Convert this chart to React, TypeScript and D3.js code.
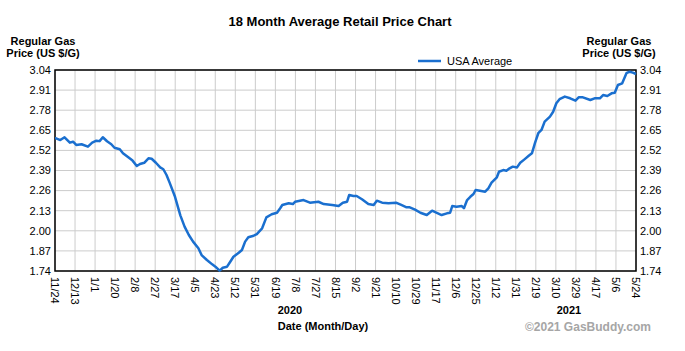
import React, { useEffect, useRef } from "react";
import * as d3 from "d3";

// days counted from 11/24/2019, price in US $/gallon
const dayOffsets = [
  0, 1, 5, 9, 14, 17, 20, 25, 31, 35, 39, 42, 45, 49, 53, 56, 61, 64, 69, 73,
  77, 80, 84, 88, 91, 95, 99, 102, 105, 108, 113, 118, 122, 126, 130, 135, 138, 143, 148, 151,
  155, 158, 162, 165, 168, 173, 176, 179, 182, 187, 190, 195, 199, 204, 209, 212, 214, 220, 224, 226,
  234, 240, 248, 253, 261, 267, 271, 275, 277, 281, 284, 289, 295, 300, 303, 308, 314, 321, 326, 331,
  334, 339, 344, 350, 355, 359, 364, 369, 372, 374, 378, 383, 385, 388, 391, 394, 396, 400, 405, 408,
  411, 416, 418, 422, 425, 428, 431, 435, 438, 442, 446, 449, 452, 455, 458, 461, 466, 469, 472, 475,
  480, 485, 490, 493, 497, 504, 508, 513, 516, 520, 524, 527, 530, 534, 538, 541, 544, 547
];
const usaAverage = [
  2.598, 2.598, 2.587, 2.605, 2.57, 2.576, 2.555, 2.56, 2.544, 2.57, 2.583, 2.58, 2.605, 2.579, 2.56, 2.537, 2.527, 2.501, 2.475, 2.454,
  2.419, 2.432, 2.44, 2.469, 2.466, 2.44, 2.41, 2.398, 2.361, 2.31, 2.22, 2.1, 2.027, 1.973, 1.93, 1.887, 1.843, 1.811, 1.783, 1.768,
  1.742, 1.761, 1.768, 1.8, 1.832, 1.858, 1.876, 1.93, 1.958, 1.968, 1.979, 2.016, 2.087, 2.107, 2.117, 2.146, 2.167, 2.178, 2.173, 2.188,
  2.199, 2.182, 2.188, 2.173, 2.167, 2.16, 2.182, 2.188, 2.232, 2.225, 2.225, 2.204, 2.173, 2.167, 2.195, 2.182, 2.178, 2.182, 2.167, 2.152,
  2.152, 2.137, 2.117, 2.102, 2.13, 2.117, 2.102, 2.113, 2.117, 2.16, 2.156, 2.16, 2.146, 2.199, 2.22, 2.238, 2.264, 2.259, 2.253, 2.275,
  2.311, 2.346, 2.382, 2.393, 2.389, 2.404, 2.415, 2.41, 2.44, 2.462, 2.485, 2.501, 2.57, 2.631, 2.652, 2.706, 2.738, 2.77, 2.825, 2.851,
  2.868, 2.857, 2.842, 2.863, 2.863, 2.846, 2.857, 2.857, 2.878, 2.872, 2.889, 2.893, 2.943, 2.954, 3.019, 3.029, 3.023, 3.014
];

const xTickLabels = [
  "11/24", "12/13", "1/1", "1/20", "2/8", "2/27", "3/17", "4/5", "4/23", "5/12",
  "5/31", "6/19", "7/8", "7/27", "8/15", "9/2", "9/21", "10/10", "10/29", "11/17",
  "12/6", "12/25", "1/12", "1/31", "2/19", "3/10", "3/29", "4/17", "5/6", "5/24"
];
const yTicks = [1.74, 1.87, 2.0, 2.13, 2.26, 2.39, 2.52, 2.65, 2.78, 2.91, 3.04];

const startDate = new Date(2019, 10, 24);
const endDate = new Date(2021, 4, 24);

function App() {
  const chartRef = useRef(null);

  useEffect(() => {
    drawChart();
  }, []);

  const drawChart = () => {
    const margin = { top: 70, right: 49, bottom: 80, left: 55 },
      width = 685 - margin.left - margin.right,
      height = 351 - margin.top - margin.bottom;
    const font = "Arial, 'Liberation Sans', sans-serif";

    d3.select(chartRef.current).selectAll("*").remove();

    const root = d3.select(chartRef.current)
      .append("svg")
      .attr("width", 685)
      .attr("height", 351)
      .style("display", "block")
      .style("background", "#fff")
      .style("font-family", font);

    const svg = root.append("g")
      .attr("transform", `translate(${margin.left},${margin.top})`);

    const x = d3.scaleTime().domain([startDate, endDate]).range([0, width]);
    const y = d3.scaleLinear().domain([1.74, 3.04]).range([height, 0]);

    // evenly spaced date ticks over the 18 months
    const tickDates = xTickLabels.map((d, i) =>
      new Date(+startDate + (i / (xTickLabels.length - 1)) * (+endDate - +startDate)));

    // grid
    svg.append("g")
      .selectAll("line")
      .data(yTicks)
      .enter()
      .append("line")
      .attr("x1", 0)
      .attr("x2", width)
      .attr("y1", d => y(d))
      .attr("y2", d => y(d))
      .attr("stroke", "#cccccc")
      .attr("stroke-width", 1);

    svg.append("g")
      .selectAll("line")
      .data(tickDates)
      .enter()
      .append("line")
      .attr("x1", d => x(d))
      .attr("x2", d => x(d))
      .attr("y1", 0)
      .attr("y2", height)
      .attr("stroke", "#cccccc")
      .attr("stroke-width", 1);

    // border
    svg.append("rect")
      .attr("width", width)
      .attr("height", height)
      .attr("fill", "none")
      .attr("stroke", "#000")
      .attr("stroke-width", 1.5);

    // y labels both sides
    svg.append("g")
      .selectAll("text")
      .data(yTicks)
      .enter()
      .append("text")
      .attr("x", -4)
      .attr("y", d => y(d))
      .attr("dy", "0.35em")
      .attr("text-anchor", "end")
      .style("font-size", "11px")
      .text(d => d.toFixed(2));

    svg.append("g")
      .selectAll("text")
      .data(yTicks)
      .enter()
      .append("text")
      .attr("x", width + 4)
      .attr("y", d => y(d))
      .attr("dy", "0.35em")
      .attr("text-anchor", "start")
      .style("font-size", "11px")
      .text(d => d.toFixed(2));

    // x labels, rotated
    svg.append("g")
      .selectAll("text")
      .data(tickDates)
      .enter()
      .append("text")
      .attr("transform", d => `translate(${x(d)},${height + 6}) rotate(90)`)
      .attr("dy", "0.35em")
      .attr("text-anchor", "start")
      .style("font-size", "11px")
      .text((d, i) => xTickLabels[i]);

    // the line
    const data = dayOffsets.map((d, i) => ({ date: d3.timeDay.offset(startDate, d), value: usaAverage[i] }));
    const line = d3.line()
      .x(d => x(d.date))
      .y(d => y(d.value))
      .curve(d3.curveLinear);

    svg.append("path")
      .datum(data)
      .attr("fill", "none")
      .attr("stroke", "#1a6fcf")
      .attr("stroke-width", 2.5)
      .attr("stroke-linejoin", "round")
      .attr("d", line);

    // Title
    root.append("text")
      .attr("x", 340)
      .attr("y", 26)
      .attr("text-anchor", "middle")
      .style("font-size", "13px")
      .style("font-weight", "bold")
      .text("18 Month Average Retail Price Chart");

    // axis titles
    [43, 619].forEach(cx => {
      const t = root.append("text")
        .attr("text-anchor", "middle")
        .style("font-size", "11px")
        .style("font-weight", "bold");
      t.append("tspan").attr("x", cx).attr("y", 45).text("Regular Gas");
      t.append("tspan").attr("x", cx).attr("y", 57).text("Price (US $/G)");
    });

    // legend
    root.append("line")
      .attr("x1", 418)
      .attr("x2", 441)
      .attr("y1", 61)
      .attr("y2", 61)
      .attr("stroke", "#1a6fcf")
      .attr("stroke-width", 2.5);
    root.append("text")
      .attr("x", 447)
      .attr("y", 65)
      .style("font-size", "11px")
      .text("USA Average");

    // years + x title
    root.append("text")
      .attr("x", 290)
      .attr("y", 314)
      .attr("text-anchor", "middle")
      .style("font-size", "11px")
      .style("font-weight", "bold")
      .text("2020");
    root.append("text")
      .attr("x", 569)
      .attr("y", 314)
      .attr("text-anchor", "middle")
      .style("font-size", "11px")
      .style("font-weight", "bold")
      .text("2021");
    root.append("text")
      .attr("x", 323)
      .attr("y", 330)
      .attr("text-anchor", "middle")
      .style("font-size", "11px")
      .style("font-weight", "bold")
      .text("Date (Month/Day)");

    root.append("text")
      .attr("x", 588)
      .attr("y", 331)
      .attr("text-anchor", "middle")
      .style("font-size", "12px")
      .style("font-weight", "bold")
      .attr("fill", "#a6a6a6")
      .text("©2021 GasBuddy.com");
  };

  return (
    <div style={{ position: "absolute", left: 0, top: 0 }}>
      <div ref={chartRef}></div>
    </div>
  );
}

export default App;
